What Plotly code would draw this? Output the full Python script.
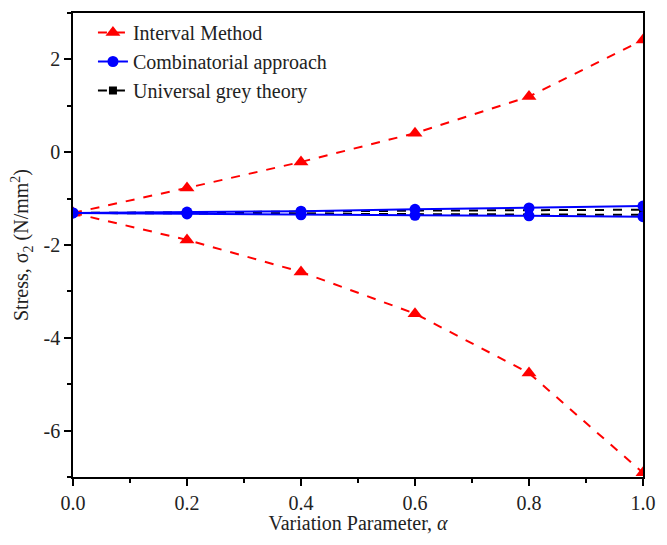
import plotly.graph_objects as go

alpha = [0.0, 0.2, 0.4, 0.6, 0.8, 1.0]

interval_upper = [-1.31, -0.77, -0.21, 0.41, 1.20, 2.42]
interval_lower = [-1.31, -1.89, -2.58, -3.48, -4.76, -6.91]

comb_upper = [-1.31, -1.29, -1.27, -1.23, -1.20, -1.16]
comb_lower = [-1.31, -1.33, -1.35, -1.36, -1.37, -1.39]

grey_upper = [-1.31, -1.30, -1.28, -1.26, -1.25, -1.24]
grey_lower = [-1.31, -1.32, -1.33, -1.34, -1.34, -1.35]

x_ticks = [0.0, 0.2, 0.4, 0.6, 0.8, 1.0]
y_ticks = [-6, -4, -2, 0, 2]

RED = "#ff0000"
BLUE = "#0000ff"
BLACK = "#000000"
FONT = "Liberation Serif"
TXT = "#222"

fig = go.Figure()

def add(y, name, color, dash, symbol, size, show, rank):
    fig.add_trace(go.Scatter(
        x=alpha, y=y, name=name, mode="lines+markers",
        line=dict(color=color, width=2, dash=dash),
        marker=dict(symbol=symbol, size=size, color=color),
        legendgroup=name, showlegend=show, legendrank=rank,
    ))

add(interval_upper, "Interval Method", RED, "dash", "triangle-up", 13, True, 1)
add(interval_lower, "Interval Method", RED, "dash", "triangle-up", 13, False, 1)
add(grey_upper, "Universal grey theory", BLACK, "dash", "square", 8, True, 3)
add(grey_lower, "Universal grey theory", BLACK, "dash", "square", 8, False, 3)
add(comb_upper, "Combinatorial approach", BLUE, "solid", "circle", 11, True, 2)
add(comb_lower, "Combinatorial approach", BLUE, "solid", "circle", 11, False, 2)

axis_common = dict(
    showgrid=False, zeroline=False, showline=True, linecolor="black", linewidth=1.5,
    ticks="outside", ticklen=7, tickwidth=1.5, tickcolor="black",
    mirror=True, ticklabeloverflow="allow",
    tickfont=dict(family=FONT, size=20, color=TXT),
)

fig.update_xaxes(
    range=[0, 1], tickvals=x_ticks, ticktext=[f"{v:.1f}" for v in x_ticks],
    title=dict(text="Variation Parameter, <i>α</i>", font=dict(family=FONT, size=20, color=TXT), standoff=3),
    minor=dict(ticks="outside", ticklen=4, tickwidth=1.5, tickcolor="black", dtick=0.1),
    **axis_common,
)
fig.update_yaxes(
    range=[-7, 3], tickvals=y_ticks, ticktext=[str(v) for v in y_ticks],
    title=dict(text="Stress, σ<sub>2</sub> (N/mm<sup>2</sup>)", font=dict(family=FONT, size=20, color=TXT), standoff=18),
    minor=dict(ticks="outside", ticklen=4, tickwidth=1.5, tickcolor="black",
               tickvals=[-7, -5, -3, -1, 1, 3]),
    **axis_common,
)

fig.update_layout(
    width=651, height=526,
    margin=dict(l=65, r=6, t=3, b=54),
    plot_bgcolor="white", paper_bgcolor="white",
    legend=dict(x=0.035, y=1.0, xanchor="left", yanchor="top",
                bgcolor="rgba(0,0,0,0)", font=dict(family=FONT, size=20, color=TXT),
                tracegroupgap=0, itemwidth=30),
    font=dict(family=FONT),
)

fig.write_html("out.html")
